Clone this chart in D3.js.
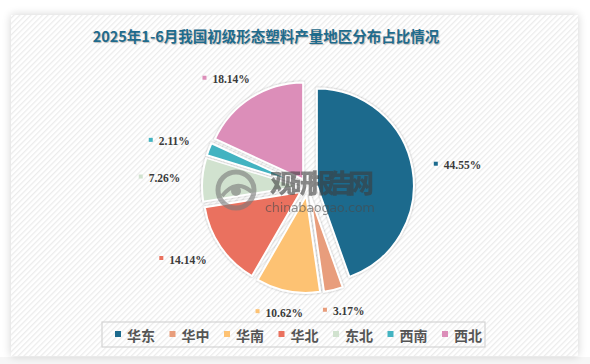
<!DOCTYPE html>
<html><head><meta charset="utf-8">
<script src="https://cdn.jsdelivr.net/npm/d3@7"></script>
<style>
html,body{margin:0;padding:0;background:#fff;}
svg{display:block;}
</style>
</head><body>
<svg id="chart" width="590" height="364"></svg>
<script>
const title = "2025年1-6月我国初级形态塑料产量地区分布占比情况";
const categories = ["华东", "华中", "华南", "华北", "东北", "西南", "西北"];
const values = [44.55, 3.17, 10.62, 14.14, 7.26, 2.11, 18.14];
const colors = ["#1c6a8d", "#e89d7b", "#fdc273", "#ea715e", "#d1e2cf", "#43b3c1", "#dc8eb9"];

const svg = d3.select("#chart");
const W = 590, H = 364;
const defs = svg.append("defs");

// hatch pattern
const pat = defs.append("pattern").attr("id", "hatch").attr("patternUnits", "userSpaceOnUse")
  .attr("width", 4).attr("height", 4).attr("patternTransform", "rotate(45)");
pat.append("rect").attr("width", 4).attr("height", 4).attr("fill", "#ffffff");
pat.append("rect").attr("x", 0).attr("width", 1.3).attr("height", 4).attr("fill", "#ececec");

const sh = defs.append("filter").attr("id", "cardShadow").attr("x", "-10%").attr("y", "-10%").attr("width", "120%").attr("height", "120%");
sh.append("feGaussianBlur").attr("in", "SourceAlpha").attr("stdDeviation", 5);
sh.append("feOffset").attr("dx", 0).attr("dy", 0).attr("result", "b");
sh.append("feComponentTransfer").append("feFuncA").attr("type", "linear").attr("slope", 0.18);
const m = sh.append("feMerge"); m.append("feMergeNode"); m.append("feMergeNode").attr("in", "SourceGraphic");

const ps = defs.append("filter").attr("id", "sliceShadow").attr("x", "-20%").attr("y", "-20%").attr("width", "140%").attr("height", "140%");
ps.append("feGaussianBlur").attr("in", "SourceAlpha").attr("stdDeviation", 1.2);
ps.append("feComponentTransfer").append("feFuncA").attr("type", "linear").attr("slope", 0.35);
const m2 = ps.append("feMerge"); m2.append("feMergeNode"); m2.append("feMergeNode").attr("in", "SourceGraphic");

svg.append("rect").attr("x", 0).attr("y", 0).attr("width", W).attr("height", H).attr("fill", "#ffffff");
svg.append("rect").attr("x", 0).attr("y", 357).attr("width", W).attr("height", 7).attr("fill", "#f6f6f6");
svg.append("rect").attr("x", 11).attr("y", 15).attr("width", 567).attr("height", 341)
  .attr("fill", "url(#hatch)").attr("filter", "url(#cardShadow)");

// title
svg.append("text").attr("x", 266).attr("y", 42).attr("text-anchor", "middle")
  .attr("font-family", "'Noto Sans CJK SC', sans-serif").attr("font-weight", "bold")
  .attr("font-size", 14.5).attr("fill", "#1f6b8c")
  .style("text-shadow", "1px 1px 1px rgba(0,0,0,0.25)")
  .text(title);

// pie
const cx = 308, cy = 187, r = 97, explode = 9, labelR = 128;
const pie = d3.pie().sort(null).value(d => d).startAngle(0).endAngle(2 * Math.PI);
const arcs = pie(values);
const arc = d3.arc().innerRadius(0).outerRadius(r);
const g = svg.append("g").attr("transform", `translate(${cx},${cy})`);

g.selectAll("path.slice").data(arcs).join("path").attr("class", "slice")
  .attr("d", arc)
  .attr("transform", d => {
    const a = (d.startAngle + d.endAngle) / 2;
    return `translate(${Math.sin(a) * explode},${-Math.cos(a) * explode})`;
  })
  .attr("fill", (d, i) => colors[i])
  .attr("stroke", "#ffffff").attr("stroke-width", 2).attr("stroke-linejoin", "round")
  .attr("filter", "url(#sliceShadow)");

// watermark
const wm = svg.append("g").attr("opacity", 0.6);
wm.append("circle").attr("cx", 236).attr("cy", 190).attr("r", 18).attr("fill", "none").attr("stroke", "#7a7a7a").attr("stroke-width", 5);
wm.append("path").attr("d", "M222,196 Q236,178 252,192").attr("fill", "none").attr("stroke", "#7a7a7a").attr("stroke-width", 4);
wm.append("circle").attr("cx", 236).attr("cy", 191).attr("r", 5).attr("fill", "#7a7a7a");
wm.append("text").attr("x", 270).attr("y", 193).attr("font-family", "'Noto Sans CJK SC', sans-serif")
  .attr("font-weight", "900").attr("font-size", 26).attr("fill", "#3c3c3c").attr("textLength", 104)
  .text("观研报告网");
wm.append("text").attr("x", 265).attr("y", 212).attr("font-family", "'DejaVu Sans', sans-serif")
  .attr("font-size", 13).attr("fill", "#4a4a4a").attr("textLength", 110)
  .text("chinabaogao.com");

// labels
const lab = svg.append("g");
arcs.forEach((d, i) => {
  const a = (d.startAngle + d.endAngle) / 2;
  const ax = cx + Math.sin(a) * labelR, ay = cy - Math.cos(a) * labelR;
  const t = lab.append("text").attr("font-family", "'Liberation Serif', serif").attr("font-weight", "bold")
    .attr("font-size", 11.5).attr("fill", "#3a3a3a").attr("dominant-baseline", "central")
    .text(values[i].toFixed(2) + "%");
  const tw = t.node().getComputedTextLength();
  const w = 10 + tw;
  const x0 = ax + (w / 2) * Math.sin(a) - w / 2;
  t.attr("x", x0 + 10).attr("y", ay);
  lab.append("rect").attr("x", x0).attr("y", ay - 3.5).attr("width", 4).attr("height", 4).attr("fill", colors[i]);
});

// legend
const lg = svg.append("g");
lg.append("rect").attr("x", 102).attr("y", 322).attr("width", 383).attr("height", 25)
  .attr("fill", "none").attr("stroke", "#d4d4d4").attr("stroke-width", 1.2);
let lx = 115;
categories.forEach((c, i) => {
  lg.append("rect").attr("x", lx).attr("y", 331).attr("width", 6).attr("height", 6).attr("fill", colors[i]);
  const t = lg.append("text").attr("x", lx + 12).attr("y", 334.5).attr("dominant-baseline", "central")
    .attr("font-family", "'Noto Sans CJK SC', sans-serif").attr("font-weight", "bold")
    .attr("font-size", 14).attr("fill", "#555").text(c);
  lx += 12 + t.node().getComputedTextLength() + 14.5;
});
</script>
</body></html>
